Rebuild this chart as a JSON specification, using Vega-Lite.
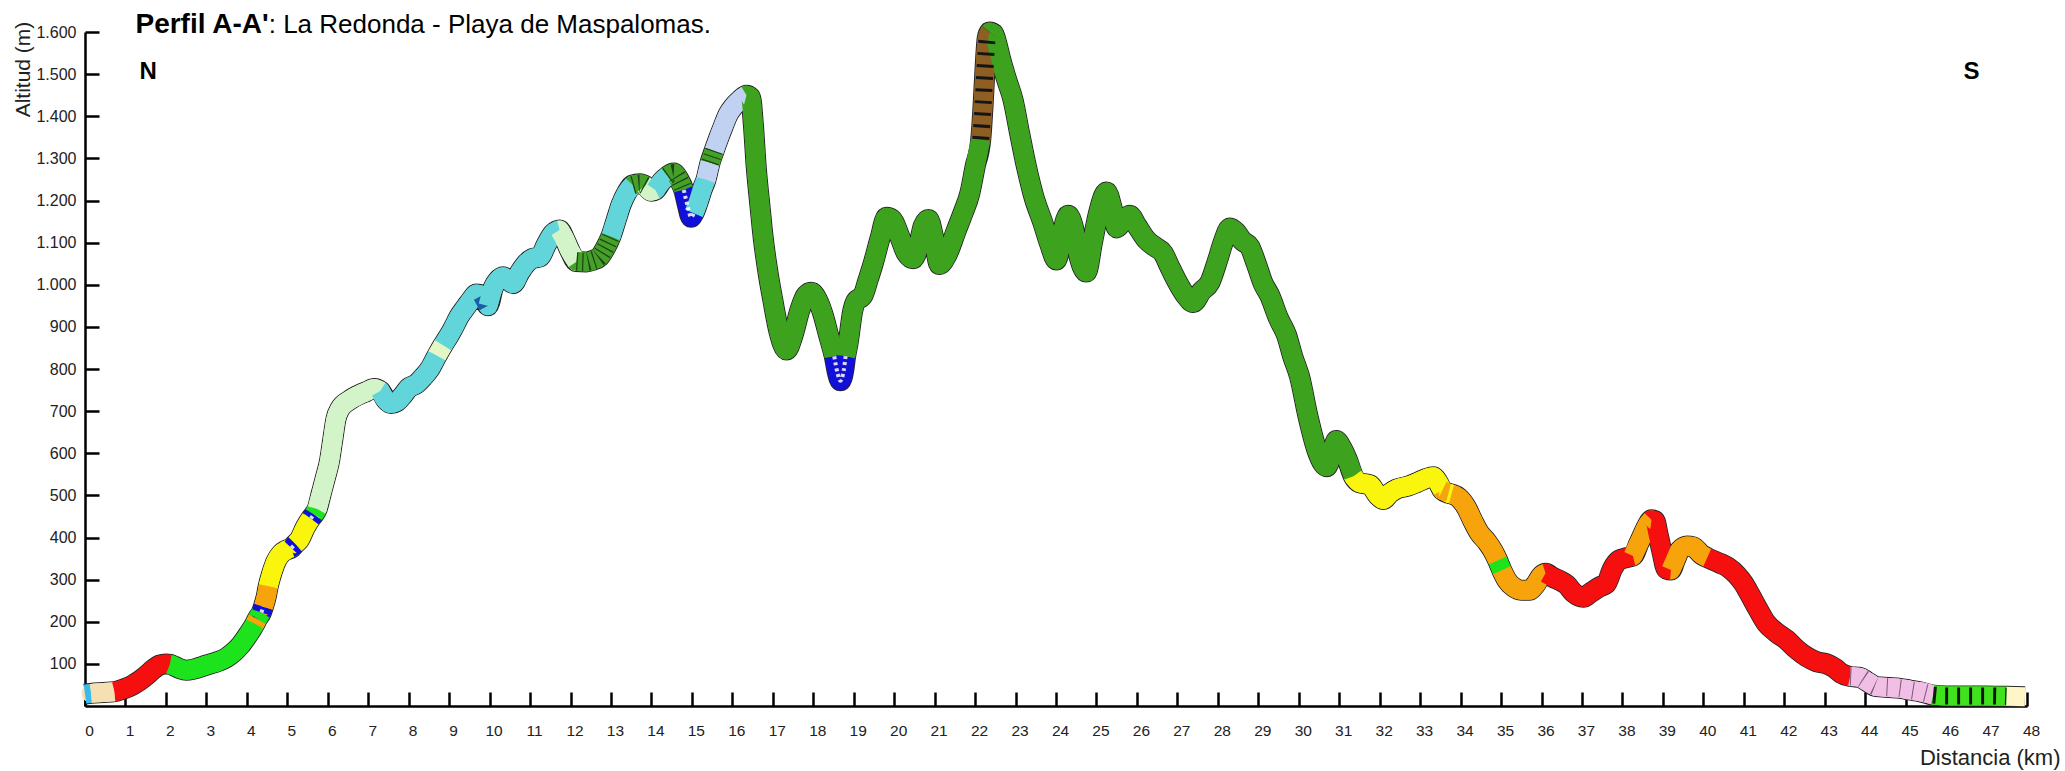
{
  "$schema": "https://vega.github.io/schema/vega-lite/v6.json",
  "width": 1942,
  "height": 674,
  "autosize": {"type": "none"},
  "padding": {"left": 85, "top": 32, "right": 38, "bottom": 65},
  "background": "white",
  "config": {
    "view": {"stroke": null},
    "font": "Liberation Sans",
    "axis": {"labelFont": "Liberation Sans", "titleFont": "Liberation Sans", "grid": false}
  },
  "datasets": {
    "pts": [
      {"s":1,"v":"A","km":0,"alt":28},{"s":1,"v":"A","km":0.15,"alt":30},
      {"s":2,"v":"B","km":0.15,"alt":30},{"s":2,"v":"B","km":0.45,"alt":32},{"s":2,"v":"B","km":0.73,"alt":34},
      {"s":3,"v":"R","km":0.73,"alt":34},{"s":3,"v":"R","km":1.0,"alt":42},{"s":3,"v":"R","km":1.18,"alt":50},{"s":3,"v":"R","km":1.35,"alt":60},{"s":3,"v":"R","km":1.51,"alt":72},{"s":3,"v":"R","km":1.7,"alt":88},{"s":3,"v":"R","km":1.84,"alt":97},{"s":3,"v":"R","km":2.0,"alt":100},{"s":3,"v":"R","km":2.1,"alt":99},
      {"s":4,"v":"L","km":2.1,"alt":99},{"s":4,"v":"L","km":2.2,"alt":95},{"s":4,"v":"L","km":2.34,"alt":89},{"s":4,"v":"L","km":2.5,"alt":85},{"s":4,"v":"L","km":2.7,"alt":88},{"s":4,"v":"L","km":3.0,"alt":97},{"s":4,"v":"L","km":3.3,"alt":106},{"s":4,"v":"L","km":3.5,"alt":115},{"s":4,"v":"L","km":3.7,"alt":130},{"s":4,"v":"L","km":3.85,"alt":145},{"s":4,"v":"L","km":4.0,"alt":165},{"s":4,"v":"L","km":4.2,"alt":195},
      {"s":5,"v":"O","km":4.2,"alt":195},{"s":5,"v":"O","km":4.26,"alt":207},
      {"s":6,"v":"L","km":4.26,"alt":207},{"s":6,"v":"L","km":4.36,"alt":222},
      {"s":7,"v":"Bl","km":4.36,"alt":222},{"s":7,"v":"Bl","km":4.41,"alt":236},
      {"s":8,"v":"O","km":4.41,"alt":236},{"s":8,"v":"O","km":4.48,"alt":260},{"s":8,"v":"O","km":4.53,"alt":285},
      {"s":9,"v":"Y","km":4.53,"alt":285},{"s":9,"v":"Y","km":4.6,"alt":310},{"s":9,"v":"Y","km":4.73,"alt":345},{"s":9,"v":"Y","km":4.85,"alt":362},{"s":9,"v":"Y","km":4.97,"alt":370},{"s":9,"v":"Y","km":5.1,"alt":375},
      {"s":10,"v":"Bl","km":5.1,"alt":375},{"s":10,"v":"Bl","km":5.2,"alt":385},
      {"s":11,"v":"Y","km":5.2,"alt":385},{"s":11,"v":"Y","km":5.3,"alt":395},{"s":11,"v":"Y","km":5.45,"alt":425},{"s":11,"v":"Y","km":5.58,"alt":445},
      {"s":12,"v":"Bl","km":5.58,"alt":445},{"s":12,"v":"Bl","km":5.66,"alt":455},
      {"s":13,"v":"L","km":5.66,"alt":455},{"s":13,"v":"L","km":5.74,"alt":468},
      {"s":14,"v":"PG","km":5.74,"alt":468},{"s":14,"v":"PG","km":5.84,"alt":505},{"s":14,"v":"PG","km":5.95,"alt":545},{"s":14,"v":"PG","km":6.04,"alt":580},{"s":14,"v":"PG","km":6.12,"alt":630},{"s":14,"v":"PG","km":6.2,"alt":680},{"s":14,"v":"PG","km":6.3,"alt":705},{"s":14,"v":"PG","km":6.54,"alt":726},{"s":14,"v":"PG","km":6.8,"alt":740},{"s":14,"v":"PG","km":6.95,"alt":746},{"s":14,"v":"PG","km":7.15,"alt":754},{"s":14,"v":"PG","km":7.3,"alt":748},
      {"s":15,"v":"C","km":7.3,"alt":748},{"s":15,"v":"C","km":7.45,"alt":725},{"s":15,"v":"C","km":7.57,"alt":718},{"s":15,"v":"C","km":7.7,"alt":722},{"s":15,"v":"C","km":7.86,"alt":738},{"s":15,"v":"C","km":8.0,"alt":755},{"s":15,"v":"C","km":8.2,"alt":765},{"s":15,"v":"C","km":8.35,"alt":780},{"s":15,"v":"C","km":8.52,"alt":800},{"s":15,"v":"C","km":8.7,"alt":832},
      {"s":16,"v":"PY","km":8.7,"alt":832},{"s":16,"v":"PY","km":8.85,"alt":857},
      {"s":17,"v":"C","km":8.85,"alt":857},{"s":17,"v":"C","km":9.0,"alt":880},{"s":17,"v":"C","km":9.09,"alt":895},{"s":17,"v":"C","km":9.25,"alt":925},{"s":17,"v":"C","km":9.42,"alt":948},{"s":17,"v":"C","km":9.55,"alt":965},{"s":17,"v":"C","km":9.67,"alt":978},{"s":17,"v":"C","km":9.82,"alt":975},
      {"s":18,"v":"DB","km":9.82,"alt":975},{"s":18,"v":"DB","km":9.96,"alt":950},
      {"s":19,"v":"C","km":9.96,"alt":950},{"s":19,"v":"C","km":10.1,"alt":995},{"s":19,"v":"C","km":10.2,"alt":1010},{"s":19,"v":"C","km":10.33,"alt":1019},{"s":19,"v":"C","km":10.45,"alt":1012},{"s":19,"v":"C","km":10.58,"alt":1003},{"s":19,"v":"C","km":10.75,"alt":1030},{"s":19,"v":"C","km":10.91,"alt":1051},{"s":19,"v":"C","km":11.05,"alt":1062},{"s":19,"v":"C","km":11.24,"alt":1066},{"s":19,"v":"C","km":11.4,"alt":1095},{"s":19,"v":"C","km":11.57,"alt":1122},{"s":19,"v":"C","km":11.73,"alt":1130},
      {"s":20,"v":"PG","km":11.73,"alt":1130},{"s":20,"v":"PG","km":11.85,"alt":1110},{"s":20,"v":"PG","km":11.98,"alt":1082},{"s":20,"v":"PG","km":12.15,"alt":1055},
      {"s":21,"v":"X","km":12.15,"alt":1055},{"s":21,"v":"X","km":12.39,"alt":1054},{"s":21,"v":"X","km":12.55,"alt":1058},{"s":21,"v":"X","km":12.72,"alt":1066},{"s":21,"v":"X","km":12.85,"alt":1085},{"s":21,"v":"X","km":13.0,"alt":1115},
      {"s":22,"v":"C","km":13.0,"alt":1115},{"s":22,"v":"C","km":13.13,"alt":1154},{"s":22,"v":"C","km":13.25,"alt":1190},{"s":22,"v":"C","km":13.38,"alt":1217},{"s":22,"v":"C","km":13.54,"alt":1237},
      {"s":23,"v":"X","km":13.54,"alt":1237},{"s":23,"v":"X","km":13.71,"alt":1240},{"s":23,"v":"X","km":13.85,"alt":1235},
      {"s":24,"v":"PG","km":13.85,"alt":1235},{"s":24,"v":"PG","km":14.0,"alt":1222},{"s":24,"v":"PG","km":14.1,"alt":1225},
      {"s":25,"v":"C","km":14.1,"alt":1225},{"s":25,"v":"C","km":14.25,"alt":1245},{"s":25,"v":"C","km":14.4,"alt":1258},
      {"s":26,"v":"X","km":14.4,"alt":1258},{"s":26,"v":"X","km":14.55,"alt":1265},{"s":26,"v":"X","km":14.68,"alt":1250},{"s":26,"v":"X","km":14.8,"alt":1225},
      {"s":27,"v":"Bl","km":14.8,"alt":1225},{"s":27,"v":"Bl","km":14.9,"alt":1185},{"s":27,"v":"Bl","km":14.98,"alt":1160},{"s":27,"v":"Bl","km":15.05,"alt":1170},
      {"s":28,"v":"C","km":15.05,"alt":1170},{"s":28,"v":"C","km":15.15,"alt":1195},{"s":28,"v":"C","km":15.25,"alt":1225},{"s":28,"v":"C","km":15.35,"alt":1250},
      {"s":29,"v":"LV","km":15.35,"alt":1250},{"s":29,"v":"LV","km":15.45,"alt":1290},
      {"s":30,"v":"X","km":15.45,"alt":1290},{"s":30,"v":"X","km":15.55,"alt":1318},
      {"s":31,"v":"LV","km":15.55,"alt":1318},{"s":31,"v":"LV","km":15.65,"alt":1345},{"s":31,"v":"LV","km":15.77,"alt":1375},{"s":31,"v":"LV","km":15.9,"alt":1405},{"s":31,"v":"LV","km":16.02,"alt":1422},{"s":31,"v":"LV","km":16.2,"alt":1440},{"s":31,"v":"LV","km":16.35,"alt":1450},
      {"s":32,"v":"G","km":16.35,"alt":1450},{"s":32,"v":"G","km":16.45,"alt":1445},{"s":32,"v":"G","km":16.52,"alt":1380},{"s":32,"v":"G","km":16.59,"alt":1280},{"s":32,"v":"G","km":16.68,"alt":1190},{"s":32,"v":"G","km":16.76,"alt":1114},{"s":32,"v":"G","km":16.88,"alt":1030},{"s":32,"v":"G","km":17.0,"alt":964},{"s":32,"v":"G","km":17.15,"alt":890},{"s":32,"v":"G","km":17.34,"alt":845},{"s":32,"v":"G","km":17.5,"alt":880},{"s":32,"v":"G","km":17.67,"alt":940},{"s":32,"v":"G","km":17.82,"alt":975},{"s":32,"v":"G","km":17.95,"alt":982},{"s":32,"v":"G","km":18.1,"alt":965},{"s":32,"v":"G","km":18.24,"alt":930},{"s":32,"v":"G","km":18.38,"alt":880},{"s":32,"v":"G","km":18.52,"alt":830},
      {"s":33,"v":"Bl","km":18.52,"alt":830},{"s":33,"v":"Bl","km":18.6,"alt":790},{"s":33,"v":"Bl","km":18.67,"alt":772},{"s":33,"v":"Bl","km":18.75,"alt":795},{"s":33,"v":"Bl","km":18.8,"alt":830},
      {"s":34,"v":"G","km":18.8,"alt":830},{"s":34,"v":"G","km":18.86,"alt":861},{"s":34,"v":"G","km":18.98,"alt":940},{"s":34,"v":"G","km":19.05,"alt":960},{"s":34,"v":"G","km":19.23,"alt":975},{"s":34,"v":"G","km":19.35,"alt":1010},{"s":34,"v":"G","km":19.48,"alt":1050},{"s":34,"v":"G","km":19.65,"alt":1110},{"s":34,"v":"G","km":19.81,"alt":1160},{"s":34,"v":"G","km":19.95,"alt":1155},{"s":34,"v":"G","km":20.14,"alt":1114},{"s":34,"v":"G","km":20.3,"alt":1075},{"s":34,"v":"G","km":20.47,"alt":1062},{"s":34,"v":"G","km":20.6,"alt":1090},{"s":34,"v":"G","km":20.72,"alt":1140},{"s":34,"v":"G","km":20.85,"alt":1155},{"s":34,"v":"G","km":20.98,"alt":1110},{"s":34,"v":"G","km":21.12,"alt":1048},{"s":34,"v":"G","km":21.3,"alt":1070},{"s":34,"v":"G","km":21.54,"alt":1130},{"s":34,"v":"G","km":21.7,"alt":1170},{"s":34,"v":"G","km":21.87,"alt":1217},{"s":34,"v":"G","km":22.0,"alt":1280},{"s":34,"v":"G","km":22.14,"alt":1345},
      {"s":35,"v":"BR","km":22.14,"alt":1345},{"s":35,"v":"BR","km":22.2,"alt":1430},{"s":35,"v":"BR","km":22.25,"alt":1520},{"s":35,"v":"BR","km":22.3,"alt":1585},{"s":35,"v":"BR","km":22.36,"alt":1600},
      {"s":36,"v":"G","km":22.36,"alt":1600},{"s":36,"v":"G","km":22.46,"alt":1596},{"s":36,"v":"G","km":22.55,"alt":1568},{"s":36,"v":"G","km":22.64,"alt":1533},{"s":36,"v":"G","km":22.77,"alt":1490},{"s":36,"v":"G","km":22.94,"alt":1438},{"s":36,"v":"G","km":23.1,"alt":1360},{"s":36,"v":"G","km":23.27,"alt":1280},{"s":36,"v":"G","km":23.45,"alt":1210},{"s":36,"v":"G","km":23.68,"alt":1146},{"s":36,"v":"G","km":23.85,"alt":1095},{"s":36,"v":"G","km":24.01,"alt":1059},{"s":36,"v":"G","km":24.15,"alt":1120},{"s":36,"v":"G","km":24.3,"alt":1165},{"s":36,"v":"G","km":24.42,"alt":1140},{"s":36,"v":"G","km":24.55,"alt":1075},{"s":36,"v":"G","km":24.75,"alt":1030},{"s":36,"v":"G","km":24.9,"alt":1100},{"s":36,"v":"G","km":25.05,"alt":1170},{"s":36,"v":"G","km":25.25,"alt":1220},{"s":36,"v":"G","km":25.38,"alt":1185},{"s":36,"v":"G","km":25.5,"alt":1135},{"s":36,"v":"G","km":25.65,"alt":1150},{"s":36,"v":"G","km":25.82,"alt":1165},{"s":36,"v":"G","km":26.0,"alt":1140},{"s":36,"v":"G","km":26.24,"alt":1106},{"s":36,"v":"G","km":26.45,"alt":1090},{"s":36,"v":"G","km":26.65,"alt":1075},{"s":36,"v":"G","km":26.8,"alt":1045},{"s":36,"v":"G","km":26.98,"alt":1010},{"s":36,"v":"G","km":27.2,"alt":975},{"s":36,"v":"G","km":27.39,"alt":958},{"s":36,"v":"G","km":27.6,"alt":985},{"s":36,"v":"G","km":27.8,"alt":1005},{"s":36,"v":"G","km":28.0,"alt":1060},{"s":36,"v":"G","km":28.13,"alt":1100},{"s":36,"v":"G","km":28.3,"alt":1135},{"s":36,"v":"G","km":28.45,"alt":1125},{"s":36,"v":"G","km":28.6,"alt":1105},{"s":36,"v":"G","km":28.79,"alt":1090},{"s":36,"v":"G","km":28.95,"alt":1050},{"s":36,"v":"G","km":29.12,"alt":1003},{"s":36,"v":"G","km":29.28,"alt":975},{"s":36,"v":"G","km":29.5,"alt":920},{"s":36,"v":"G","km":29.7,"alt":880},{"s":36,"v":"G","km":29.85,"alt":830},{"s":36,"v":"G","km":30.02,"alt":782},{"s":36,"v":"G","km":30.23,"alt":687},{"s":36,"v":"G","km":30.44,"alt":610},{"s":36,"v":"G","km":30.6,"alt":575},{"s":36,"v":"G","km":30.69,"alt":568},{"s":36,"v":"G","km":30.82,"alt":600},{"s":36,"v":"G","km":30.93,"alt":630},{"s":36,"v":"G","km":31.05,"alt":615},{"s":36,"v":"G","km":31.2,"alt":585},{"s":36,"v":"G","km":31.35,"alt":545},
      {"s":37,"v":"Y","km":31.35,"alt":545},{"s":37,"v":"Y","km":31.5,"alt":530},{"s":37,"v":"Y","km":31.76,"alt":525},{"s":37,"v":"Y","km":31.95,"alt":500},{"s":37,"v":"Y","km":32.09,"alt":490},{"s":37,"v":"Y","km":32.25,"alt":505},{"s":37,"v":"Y","km":32.42,"alt":515},{"s":37,"v":"Y","km":32.7,"alt":522},{"s":37,"v":"Y","km":32.91,"alt":530},{"s":37,"v":"Y","km":33.15,"alt":540},{"s":37,"v":"Y","km":33.32,"alt":544},{"s":37,"v":"Y","km":33.45,"alt":530},{"s":37,"v":"Y","km":33.55,"alt":512},
      {"s":38,"v":"O","km":33.55,"alt":512},{"s":38,"v":"O","km":33.7,"alt":505},
      {"s":39,"v":"Y","km":33.7,"alt":505},{"s":39,"v":"Y","km":33.78,"alt":503},
      {"s":40,"v":"O","km":33.78,"alt":503},{"s":40,"v":"O","km":33.95,"alt":495},{"s":40,"v":"O","km":34.15,"alt":470},{"s":40,"v":"O","km":34.3,"alt":440},{"s":40,"v":"O","km":34.47,"alt":410},{"s":40,"v":"O","km":34.65,"alt":390},{"s":40,"v":"O","km":34.8,"alt":368},{"s":40,"v":"O","km":34.92,"alt":345},
      {"s":41,"v":"L","km":34.92,"alt":345},{"s":41,"v":"L","km":35.02,"alt":322},
      {"s":42,"v":"O","km":35.02,"alt":322},{"s":42,"v":"O","km":35.15,"alt":298},{"s":42,"v":"O","km":35.3,"alt":283},{"s":42,"v":"O","km":35.5,"alt":275},{"s":42,"v":"O","km":35.71,"alt":275},{"s":42,"v":"O","km":35.85,"alt":288},{"s":42,"v":"O","km":36.0,"alt":310},{"s":42,"v":"O","km":36.1,"alt":315},
      {"s":43,"v":"R","km":36.1,"alt":315},{"s":43,"v":"R","km":36.29,"alt":305},{"s":43,"v":"R","km":36.45,"alt":298},{"s":43,"v":"R","km":36.62,"alt":288},{"s":43,"v":"R","km":36.8,"alt":268},{"s":43,"v":"R","km":37.03,"alt":258},{"s":43,"v":"R","km":37.2,"alt":268},{"s":43,"v":"R","km":37.44,"alt":283},{"s":43,"v":"R","km":37.6,"alt":290},{"s":43,"v":"R","km":37.75,"alt":325},{"s":43,"v":"R","km":37.93,"alt":347},{"s":43,"v":"R","km":38.1,"alt":352},{"s":43,"v":"R","km":38.26,"alt":356},
      {"s":44,"v":"O","km":38.26,"alt":356},{"s":44,"v":"O","km":38.4,"alt":385},{"s":44,"v":"O","km":38.51,"alt":408},{"s":44,"v":"O","km":38.62,"alt":430},{"s":44,"v":"O","km":38.72,"alt":442},
      {"s":45,"v":"R","km":38.72,"alt":442},{"s":45,"v":"R","km":38.8,"alt":440},{"s":45,"v":"R","km":38.88,"alt":408},{"s":45,"v":"R","km":38.98,"alt":365},{"s":45,"v":"R","km":39.09,"alt":325},{"s":45,"v":"R","km":39.2,"alt":323},
      {"s":46,"v":"O","km":39.2,"alt":323},{"s":46,"v":"O","km":39.3,"alt":345},{"s":46,"v":"O","km":39.42,"alt":370},{"s":46,"v":"O","km":39.6,"alt":380},{"s":46,"v":"O","km":39.75,"alt":378},{"s":46,"v":"O","km":39.95,"alt":360},{"s":46,"v":"O","km":40.1,"alt":352},
      {"s":47,"v":"R","km":40.1,"alt":352},{"s":47,"v":"R","km":40.41,"alt":339},{"s":47,"v":"R","km":40.6,"alt":330},{"s":47,"v":"R","km":40.82,"alt":312},{"s":47,"v":"R","km":41.0,"alt":290},{"s":47,"v":"R","km":41.15,"alt":265},{"s":47,"v":"R","km":41.35,"alt":230},{"s":47,"v":"R","km":41.56,"alt":196},{"s":47,"v":"R","km":41.8,"alt":175},{"s":47,"v":"R","km":42.06,"alt":157},{"s":47,"v":"R","km":42.3,"alt":135},{"s":47,"v":"R","km":42.55,"alt":117},{"s":47,"v":"R","km":42.8,"alt":105},{"s":47,"v":"R","km":43.05,"alt":100},{"s":47,"v":"R","km":43.25,"alt":90},{"s":47,"v":"R","km":43.4,"alt":78},{"s":47,"v":"R","km":43.63,"alt":70},
      {"s":48,"v":"PK","km":43.63,"alt":70},{"s":48,"v":"PK","km":43.87,"alt":68},{"s":48,"v":"PK","km":44.05,"alt":58},{"s":48,"v":"PK","km":44.28,"alt":46},{"s":48,"v":"PK","km":44.6,"alt":44},{"s":48,"v":"PK","km":44.86,"alt":42},{"s":48,"v":"PK","km":45.1,"alt":38},{"s":48,"v":"PK","km":45.35,"alt":34},{"s":48,"v":"PK","km":45.68,"alt":26},
      {"s":49,"v":"HL","km":45.68,"alt":26},{"s":49,"v":"HL","km":46.0,"alt":24},{"s":49,"v":"HL","km":46.5,"alt":24},{"s":49,"v":"HL","km":47.0,"alt":24},{"s":49,"v":"HL","km":47.49,"alt":23},
      {"s":50,"v":"LY","km":47.49,"alt":23},{"s":50,"v":"LY","km":47.95,"alt":22}
    ]
  },
  "encoding": {
    "x": {
      "field": "km", "type": "quantitative",
      "scale": {"domain": [0, 48], "nice": false, "zero": false},
      "axis": {
        "values": [0,1,2,3,4,5,6,7,8,9,10,11,12,13,14,15,16,17,18,19,20,21,22,23,24,25,26,27,28,29,30,31,32,33,34,35,36,37,38,39,40,41,42,43,44,45,46,47,48],
        "format": "d",
        "domainColor": "#000", "domainWidth": 2.5,
        "tickColor": "#000", "tickWidth": 2.5, "tickSize": -14,
        "labelPadding": 31, "labelOffset": 4, "labelFontSize": 15.5, "labelColor": "#222",
        "labelFlush": false, "labelOverlap": false,
        "title": "Distancia (km)", "titleFontSize": 22, "titleFontWeight": "normal", "titleColor": "#222",
        "titleX": 1975, "titleY": 51, "titleAlign": "right", "titleBaseline": "middle", "titleAnchor": null
      }
    },
    "y": {
      "field": "alt", "type": "quantitative",
      "scale": {"domain": [0, 1600], "nice": false, "zero": true},
      "axis": {
        "values": [100,200,300,400,500,600,700,800,900,1000,1100,1200,1300,1400,1500,1600],
        "labelExpr": "replace(format(datum.value, ','), ',', '.')",
        "domainColor": "#000", "domainWidth": 2.5,
        "tickColor": "#000", "tickWidth": 2.5, "tickSize": -14,
        "labelPadding": 23, "labelFontSize": 16, "labelColor": "#222",
        "labelFlush": false, "labelOverlap": false,
        "title": "Altitud (m)", "titleFontSize": 21, "titleFontWeight": "normal", "titleColor": "#222",
        "titleAngle": -90, "titleX": -62, "titleY": 37, "titleAlign": "center", "titleBaseline": "middle", "titleAnchor": null
      }
    }
  },
  "layer": [
    {
      "data": {"name": "pts"},
      "mark": {"type": "line", "stroke": "#262626", "strokeWidth": 21, "strokeJoin": "round", "strokeCap": "butt", "interpolate": "monotone"},
      "encoding": {}
    },
    {
      "data": {"name": "pts"},
      "transform": [{"filter": "datum.s > 1 && datum.s < 50"}],
      "mark": {"type": "line", "strokeWidth": 19, "strokeJoin": "round", "strokeCap": "round", "interpolate": "monotone"},
      "encoding": {
        "detail": {"field": "s", "type": "nominal"},
        "color": {"field": "v", "type": "nominal", "legend": null,
          "scale": {"domain": ["A","B","R","L","O","Bl","Y","PG","C","DB","X","LV","G","BR","PK","HL","LY","PY"],
                    "range": ["#3BB9EC","#F4E0B2","#F50F0F","#1DE31D","#F7A40C","#1010D8","#F9F50C","#D2F4C8","#62D5DA","#1C5CA8","#45A02A","#C0D1F2","#3DA21E","#8E5E22","#F1BFE5","#40E21E","#FFF6C8","#E4F6C4"]}}
      }
    },
    {
      "data": {"name": "pts"},
      "mark": {"type": "line", "strokeWidth": 19, "strokeJoin": "round", "strokeCap": "butt", "interpolate": "monotone"},
      "encoding": {
        "detail": {"field": "s", "type": "nominal"},
        "color": {"field": "v", "type": "nominal", "legend": null}
      }
    },
    {
      "data": {"name": "pts"},
      "transform": [{"filter": "datum.v == 'BR' || datum.v == 'HL'"}],
      "mark": {"type": "line", "stroke": "#151515", "strokeWidth": 17, "strokeDash": [3, 9], "strokeCap": "butt", "interpolate": "monotone"},
      "encoding": {"detail": {"field": "s", "type": "nominal"}}
    },
    {
      "data": {"name": "pts"},
      "transform": [{"filter": "datum.v == 'PK'"}],
      "mark": {"type": "line", "stroke": "#7a5a74", "strokeWidth": 18, "strokeDash": [1, 12], "strokeCap": "butt", "interpolate": "monotone"},
      "encoding": {"detail": {"field": "s", "type": "nominal"}}
    },
    {
      "data": {"name": "pts"},
      "transform": [{"filter": "datum.v == 'X'"}],
      "mark": {"type": "line", "stroke": "#1c4410", "strokeWidth": 18, "strokeDash": [1.2, 4.5], "strokeCap": "butt", "interpolate": "monotone"},
      "encoding": {"detail": {"field": "s", "type": "nominal"}}
    },
    {
      "data": {"name": "pts"},
      "transform": [{"filter": "datum.v == 'Bl'"}],
      "mark": {"type": "line", "stroke": "#ffffff", "strokeWidth": 4, "strokeDash": [3, 3], "strokeCap": "butt", "opacity": 0.85, "interpolate": "monotone"},
      "encoding": {"detail": {"field": "s", "type": "nominal"}}
    },
    {
      "data": {"values": [{"km": 4.54, "alt": 1597, "t": "Perfil A-A'"}]},
      "mark": {"type": "text", "align": "right", "baseline": "alphabetic", "fontSize": 28, "fontWeight": "bold", "font": "Liberation Sans", "color": "#000"},
      "encoding": {"text": {"field": "t"}}
    },
    {
      "data": {"values": [{"km": 4.54, "alt": 1597, "t": ": La Redonda - Playa de Maspalomas."}]},
      "mark": {"type": "text", "align": "left", "baseline": "alphabetic", "fontSize": 26, "font": "Liberation Sans", "color": "#000"},
      "encoding": {"text": {"field": "t"}}
    },
    {
      "data": {"values": [{"km": 1.56, "alt": 1488, "t": "N"}, {"km": 46.63, "alt": 1488, "t": "S"}]},
      "mark": {"type": "text", "align": "center", "baseline": "alphabetic", "fontSize": 24, "fontWeight": "bold", "font": "Liberation Sans", "color": "#000"},
      "encoding": {"text": {"field": "t"}}
    }
  ]
}
